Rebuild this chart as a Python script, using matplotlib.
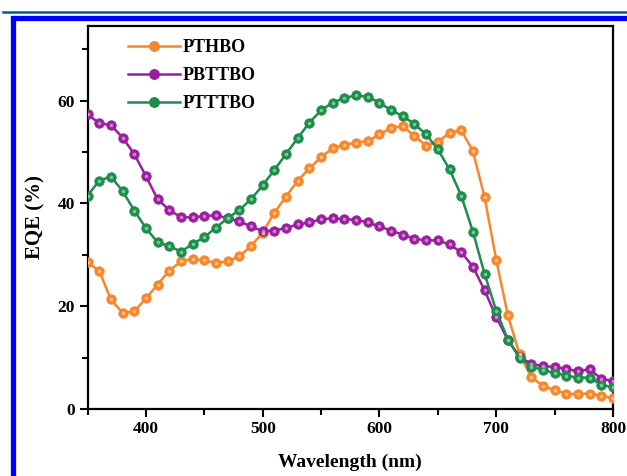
import matplotlib
matplotlib.use("Agg")
import matplotlib.pyplot as plt
from matplotlib.lines import Line2D
from matplotlib.patches import Rectangle
from matplotlib.ticker import MultipleLocator
import numpy as np

# EQE spectra, 10 nm steps from 350 to 800 nm
wavelength = np.arange(350, 801, 10)

pthbo = [28.5, 26.9, 21.3, 18.7, 19.0, 21.5, 24.2, 26.9, 28.7, 29.2,
         28.9, 28.4, 28.7, 29.7, 31.7, 34.3, 38.2, 41.3, 44.4, 46.8,
         49.0, 50.7, 51.4, 51.8, 52.1, 53.4, 54.7, 55.0, 53.1, 51.2,
         52.0, 53.7, 54.2, 50.2, 41.2, 29.0, 18.2, 10.6, 6.2, 4.5,
         3.6, 3.0, 2.9, 3.0, 2.6, 2.1]

pbttbo = [57.3, 55.6, 55.2, 52.8, 49.6, 45.3, 40.8, 38.7, 37.3, 37.3,
          37.5, 37.7, 37.1, 36.5, 35.5, 34.6, 34.7, 35.2, 35.9, 36.3,
          36.9, 37.1, 36.9, 36.8, 36.3, 35.5, 34.7, 33.9, 33.1, 32.8,
          32.8, 32.0, 30.5, 27.7, 23.1, 17.9, 13.4, 10.1, 8.8, 8.3,
          8.2, 7.7, 7.4, 7.7, 5.9, 5.4]

ptttbo = [41.5, 44.4, 45.2, 42.4, 38.6, 35.2, 32.4, 31.7, 30.6, 32.1,
          33.4, 35.3, 37.1, 38.7, 40.8, 43.5, 46.5, 49.6, 52.7, 55.7,
          58.1, 59.6, 60.5, 61.0, 60.7, 59.6, 58.1, 57.0, 55.4, 53.4,
          50.5, 46.6, 41.5, 34.5, 26.3, 19.1, 13.5, 10.0, 8.2, 7.6,
          7.0, 6.5, 6.1, 6.1, 4.7, 4.2]

names = ["PTHBO", "PBTTBO", "PTTTBO"]
colors = ["#F7862C", "#9A1F9E", "#1E8C4B"]
highlights = ["#FFC58F", "#D98BDD", "#7FD19E"]

plt.rcParams["font.family"] = ["Liberation Serif", "DejaVu Serif"]
plt.rcParams["font.weight"] = "bold"

fig = plt.figure(figsize=(6.27, 4.76), dpi=100)
ax = fig.add_axes([0.1396, 0.1408, 0.8381, 0.8046])

handles = []
for y, c, hc, name in zip([pthbo, pbttbo, ptttbo], colors, highlights, names):
    ax.plot(wavelength, y, color=c, lw=1.8, marker="o", ms=6.8,
            mfc=c, mec=c, mew=0.6, zorder=3)
    # lighter centre gives the beads a shaded look
    ax.plot(wavelength, y, ls="none", marker="o", ms=2.6, mfc=hc,
            mec="none", alpha=0.9, zorder=4)
    handles.append(Line2D([], [], color=c, lw=1.8, marker="o", ms=6.8,
                          mfc=c, mec=c, label=name))

ax.set_xlim(350, 800)
ax.set_ylim(0, 74.5)
ax.xaxis.set_major_locator(MultipleLocator(100))
ax.xaxis.set_minor_locator(MultipleLocator(50))
ax.yaxis.set_major_locator(MultipleLocator(20))
ax.yaxis.set_minor_locator(MultipleLocator(10))
ax.tick_params(which="both", direction="out", width=1.5, labelsize=12.5,
               top=False, right=False)
ax.tick_params(which="major", length=6, pad=3)
ax.tick_params(which="minor", length=4)
for lab in ax.get_xticklabels() + ax.get_yticklabels():
    lab.set_fontweight("bold")
for sp in ax.spines.values():
    sp.set_linewidth(1.6)

ax.set_xlabel("Wavelength (nm)", fontsize=14, fontweight="bold", labelpad=12)
ax.set_ylabel("EQE (%)", fontsize=15, fontweight="bold", labelpad=9)

ax.legend(handles=handles, loc="upper left", bbox_to_anchor=(0.178, 0.952),
          bbox_transform=fig.transFigure, frameon=False, handlelength=2.9,
          handletextpad=0.15, labelspacing=0.62,
          prop={"size": 13, "weight": "bold"})

# journal frame around the figure
fig.add_artist(Line2D([0.005, 1.0], [1 - 11.8 / 476, 1 - 11.8 / 476],
                      transform=fig.transFigure, color="#0057A8", lw=1.8))
fig.add_artist(Rectangle((13 / 627, -0.05), 2.0, 1 - 18 / 476 + 0.05,
                         transform=fig.transFigure, fill=False,
                         ec="#0000FF", lw=3.8))

fig.savefig("out.png", dpi=100)
